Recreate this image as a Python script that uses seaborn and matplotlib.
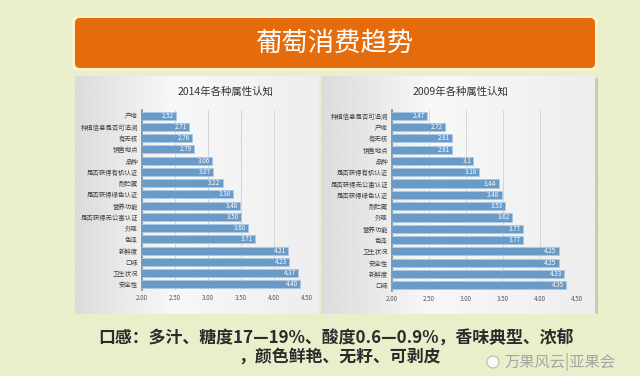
import numpy as np
import pandas as pd
import matplotlib.pyplot as plt
import seaborn as sns
from matplotlib.patches import FancyBboxPatch, Rectangle

# 数据
attrs_2014 = ['产地', '种植信息是否可追溯', '有无核', '销售地点', '品种', '是否获得有机认证',
              '耐贮藏', '是否获得绿色认证', '营养功能', '是否获得无公害认证', '外观', '色泽',
              '新鲜度', '口味', '卫生状况', '安全性']
vals_2014 = [2.52, 2.71, 2.76, 2.79, 3.06, 3.07, 3.22, 3.38, 3.48, 3.50, 3.60, 3.71,
             4.21, 4.23, 4.37, 4.40]

attrs_2009 = ['种植信息是否可追溯', '产地', '有无核', '销售地点', '品种', '是否获得有机认证',
              '是否获得无公害认证', '是否获得绿色认证', '耐贮藏', '外观', '营养功能', '色泽',
              '卫生状况', '安全性', '新鲜度', '口味']
vals_2009 = [2.47, 2.72, 2.81, 2.81, 3.1, 3.18, 3.44, 3.48, 3.53, 3.62, 3.77, 3.77,
             4.25, 4.25, 4.33, 4.35]

x_ticks = [2.0, 2.5, 3.0, 3.5, 4.0, 4.5]

titulo = '葡萄消费趋势'
nota1 = '口感：多汁、糖度17—19%、酸度0.6—0.9%，香味典型、浓郁'
nota2 = '，颜色鲜艳、无籽、可剥皮'
marca = '万果风云|亚果会'

sns.set_theme(style='white')
plt.rcParams['font.family'] = ['Noto Sans CJK SC', 'DejaVu Sans']

W, H = 640, 376
fig = plt.figure(figsize=(6.4, 3.76), dpi=100)
fig.patch.set_facecolor('#E9EFCB')

# fundo em coordenadas de pixel
bg = fig.add_axes([0, 0, 1, 1])
bg.set_xlim(0, W)
bg.set_ylim(H, 0)
bg.axis('off')

# faixa laranja
bg.add_patch(FancyBboxPatch((72, 16), 526, 55, boxstyle='round,pad=0,rounding_size=6',
                            fc='#FFF6C8', ec='none', alpha=0.8))
bg.add_patch(FancyBboxPatch((75, 18), 520, 50, boxstyle='round,pad=0,rounding_size=5',
                            fc='#E46C0C', ec='none'))
bg.text(334, 43, titulo, color='white', fontsize=19, ha='center', va='center')

# paineis cinza com gradiente
grad = np.tile(np.concatenate([np.linspace(0.86, 0.97, 40), np.linspace(0.97, 0.93, 60)]), (10, 1))
for x0, x1 in [(75, 319), (321, 595)]:
    bg.imshow(grad, cmap='gray', vmin=0, vmax=1, extent=(x0, x1, 314, 76), aspect='auto', zorder=1)
bg.add_patch(Rectangle((595, 78), 3, 236, fc='#C9CDB8', ec='none', zorder=1))
bg.set_xlim(0, W)
bg.set_ylim(H, 0)

bg.text(336, 339, nota1, color='#2B2B2B', fontsize=12.2, fontweight='bold', ha='center', va='center')
bg.text(340, 357, nota2, color='#2B2B2B', fontsize=12.2, fontweight='bold', ha='center', va='center')
bg.text(560, 362, marca, color='#9A9A9A', fontsize=11, ha='center', va='center', alpha=0.85)
bg.add_patch(plt.Circle((493, 362), 6, fc='white', ec='#AAAAAA', lw=0.8, alpha=0.8))


def painel(rect, attrs, vals, titulo_ano, fmt, tx):
    ax = fig.add_axes(rect)
    df = pd.DataFrame({'attr': attrs, 'val': vals})
    sns.barplot(data=df, y='attr', x='val', orient='h', color='#5B9BD5',
                edgecolor='#A9CBEA', linewidth=0.6, width=0.72, ax=ax, zorder=3)
    ax.set_xlim(2.0, 4.5)
    ax.set_ylim(len(attrs) - 0.5, -0.5)
    ax.set_xticks(x_ticks)
    ax.set_xticklabels([f'{t:.2f}' for t in x_ticks], fontsize=4.5, color='#555555')
    ax.tick_params(axis='y', labelsize=4.6, labelcolor='#444444', length=0, pad=3)
    ax.tick_params(axis='x', length=0, pad=3)
    ax.set_xlabel('')
    ax.set_ylabel('')
    ax.set_facecolor('none')
    ax.grid(axis='x', color='#D4D6D8', linewidth=0.7, zorder=0)
    for s in ['top', 'right', 'bottom']:
        ax.spines[s].set_visible(False)
    ax.spines['left'].set_color('#7F8790')
    ax.spines['left'].set_linewidth(1.2)
    for i, v in enumerate(vals):
        ax.text(v - 0.03, i, fmt.format(v), color='white', fontsize=4.5,
                ha='right', va='center', zorder=4)
    fig.text(tx, 1 - 92 / H, titulo_ano, fontsize=7.5, color='#333333', ha='center', va='center')
    return ax


painel([142 / W, 1 - 290 / H, (307 - 142) / W, 180 / H], attrs_2014, vals_2014,
       '2014年各种属性认知', '{:.2f}', 225 / W)
painel([392 / W, 1 - 291 / H, (577 - 392) / W, 181 / H], attrs_2009, vals_2009,
       '2009年各种属性认知', '{:g}', 460 / W)

plt.savefig('out.png', dpi=100, facecolor=fig.get_facecolor())
